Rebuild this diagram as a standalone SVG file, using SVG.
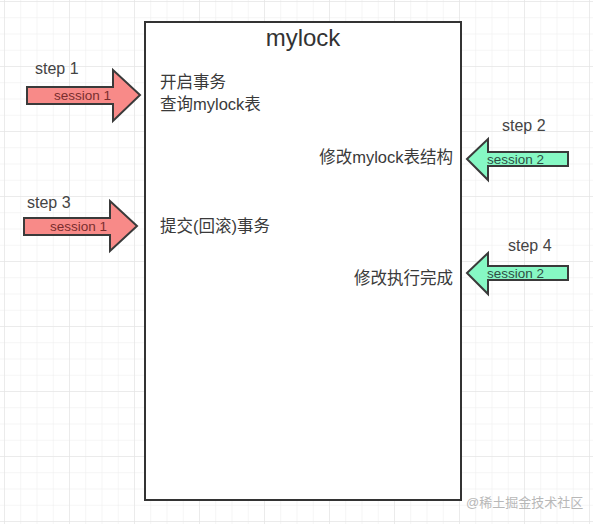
<svg xmlns="http://www.w3.org/2000/svg" width="593" height="524" viewBox="0 0 593 524">
<defs>
<pattern id="grid" x="4" y="1" width="16.25" height="16.25" patternUnits="userSpaceOnUse">
<path d="M0 0 V16.25 M0 0 H16.25" fill="none" stroke="#ececec" stroke-width="1"/>
</pattern>
<pattern id="grid2" x="4" y="1" width="65" height="65" patternUnits="userSpaceOnUse">
<path d="M0 0 V65 M0 0 H65" fill="none" stroke="#e2e2e2" stroke-width="1"/>
</pattern>
<style>
.t{font-family:"Liberation Sans","Noto Sans CJK SC",sans-serif;fill:#333}
.step{font-size:16px;fill:#444}
.lbl{font-size:16.5px;fill:#3a3a3a}
.sess{font-size:13.5px}
.red{fill:#f88a88;stroke:#3a3a3a;stroke-width:2}
.green{fill:#86f8c4;stroke:#3a3a3a;stroke-width:2}
</style>
</defs>
<rect width="593" height="524" fill="#fff"/>
<rect width="593" height="524" fill="url(#grid)"/>
<rect width="593" height="524" fill="url(#grid2)"/>
<g id="mylock">
<rect x="145" y="22" width="316" height="478" fill="#fff" stroke="#333" stroke-width="2"/>
<text class="t" x="303" y="46" font-size="24" text-anchor="middle">mylock</text>
<text class="t lbl" x="160" y="88">开启事务</text>
<text class="t lbl" x="160" y="110">查询mylock表</text>
<text class="t lbl" x="160" y="232">提交(回滚)事务</text>
<text class="t lbl" x="453" y="163" text-anchor="end">修改mylock表结构</text>
<text class="t lbl" x="453" y="284" text-anchor="end">修改执行完成</text>
</g>
<g id="connectors">
<g id="step1">
<text class="t step" x="35" y="74">step 1</text>
<polygon class="red" points="27,87 113,87 113,70 140,95 113,121 113,104 27,104"/>
<text class="t sess" x="54" y="100" style="fill:#7a2e2e">session 1</text>
</g>
<g id="step3">
<text class="t step" x="27" y="208">step 3</text>
<polygon class="red" points="24,218 110,218 110,201 137,226 110,251 110,235 24,235"/>
<text class="t sess" x="50" y="231" style="fill:#7a2e2e">session 1</text>
</g>
<g id="step2">
<text class="t step" x="502" y="131">step 2</text>
<polygon class="green" points="467,159 488,139 488,152 568,152 568,166 488,166 488,180"/>
<text class="t sess" x="487" y="164" style="fill:#2f4f45">session 2</text>
</g>
<g id="step4">
<text class="t step" x="508" y="251">step 4</text>
<polygon class="green" points="467,273 488,253 488,266 568,266 568,280 488,280 488,294"/>
<text class="t sess" x="487" y="278" style="fill:#2f4f45">session 2</text>
</g>
</g>
<text class="t" x="466" y="507" font-size="13" style="fill:#b8b8b8">@稀土掘金技术社区</text>
</svg>
